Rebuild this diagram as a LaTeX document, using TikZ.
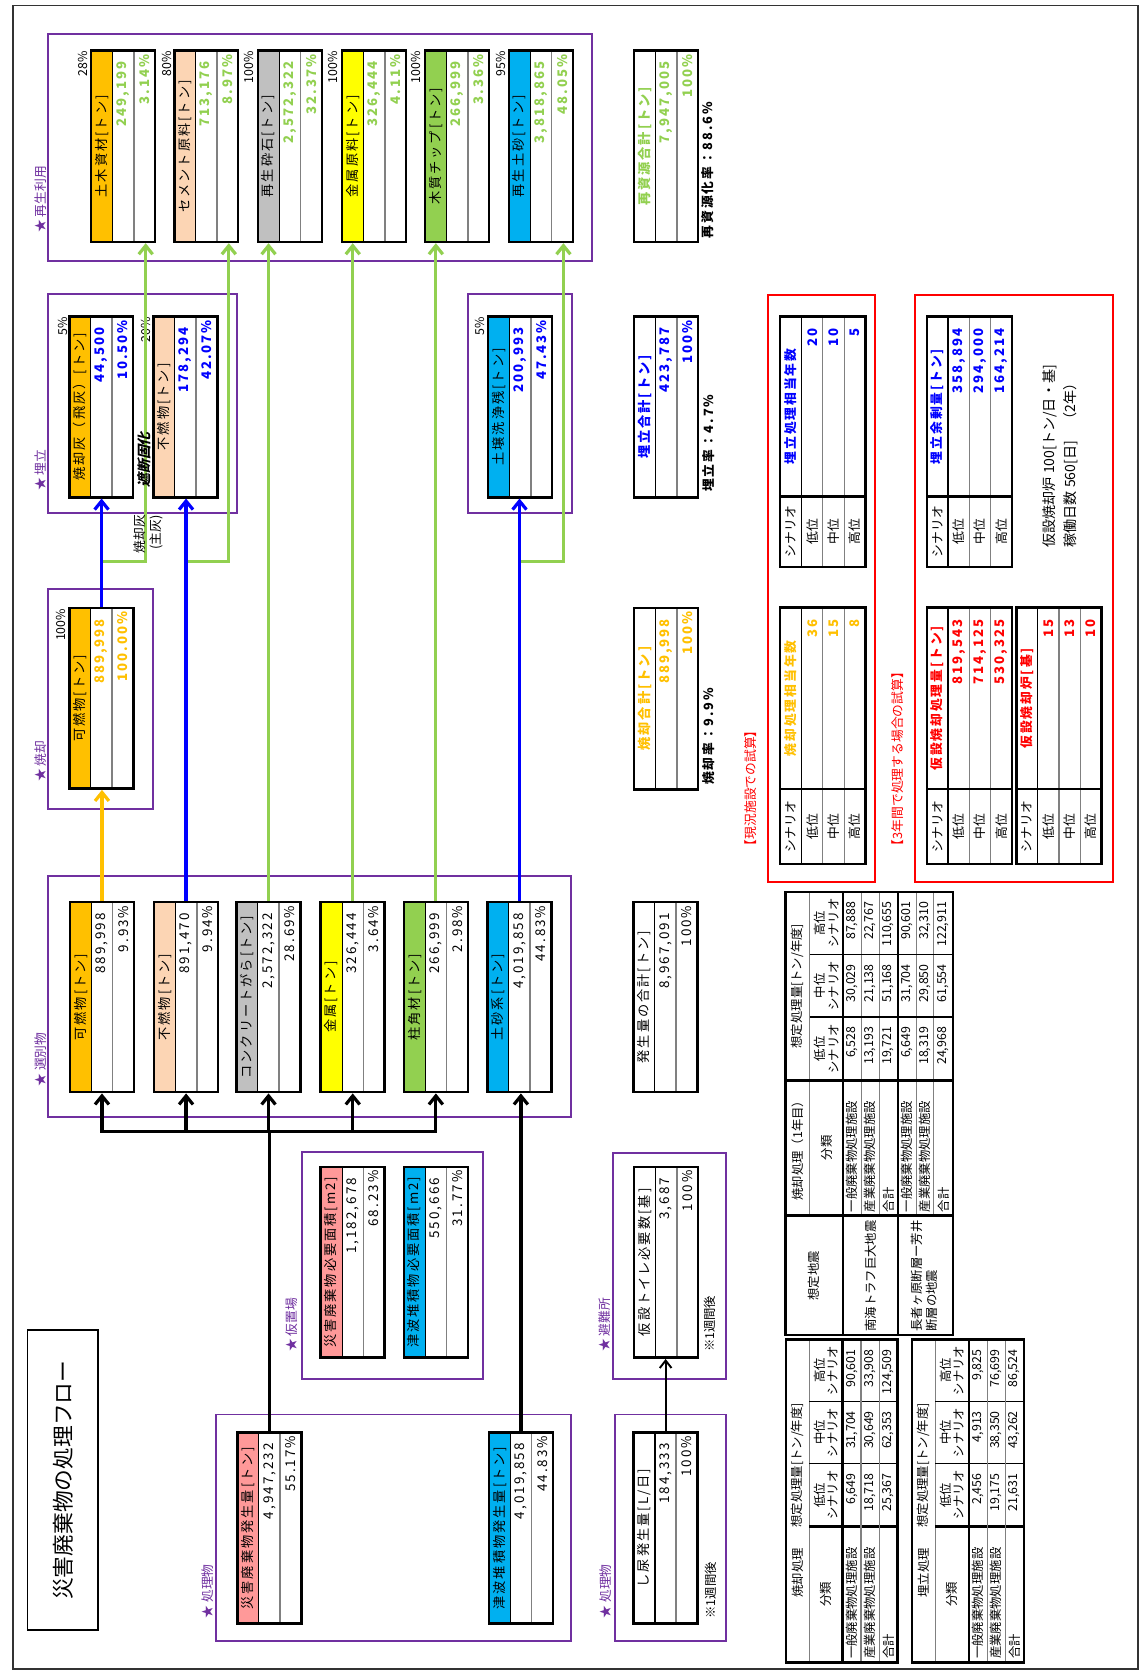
\documentclass[tikz,border=0pt]{standalone}
\usepackage{fontspec}
\setmainfont{Noto Sans CJK JP}
\newfontfamily\jpls{Noto Sans CJK JP}[LetterSpace=15]
\newfontfamily\jpsl{Noto Sans CJK JP}[FakeSlant=0.25]
\usetikzlibrary{fit,arrows.meta,calc}
\definecolor{vio}{HTML}{7030A0}
\definecolor{cor}{HTML}{FFC000}
\definecolor{cpe}{HTML}{FCD5B4}
\definecolor{cgy}{HTML}{C0C0C0}
\definecolor{cye}{HTML}{FFFF00}
\definecolor{cgr}{HTML}{92D050}
\definecolor{ccy}{HTML}{00B0F0}
\definecolor{csa}{HTML}{FF9999}
\definecolor{cbl}{HTML}{0000FF}
\definecolor{cre}{HTML}{FF0000}
\tikzset{
  dframe/.style={draw, line width=1.2pt, inner sep=0pt},
  grpbox/.style={draw=vio, line width=0.9pt},
  redbox/.style={draw=cre, line width=0.9pt},
  dlbl/.style={rotate=90, inner sep=0pt, font=\jpls\fontsize{6.2}{7}\selectfont},
  dval/.style={rotate=90, inner sep=0pt, anchor=east, font=\jpls\fontsize{6.3}{7}\selectfont},
  dvalb/.style={rotate=90, inner sep=0pt, anchor=east, font=\jpls\bfseries\fontsize{6.2}{7}\selectfont},
  pctl/.style={rotate=90, inner sep=0pt, anchor=east, font=\fontsize{5.8}{6.5}\selectfont},
  grp/.style={rotate=90, inner sep=0pt, anchor=west, text=vio, font=\fontsize{6}{7}\selectfont},
  notet/.style={rotate=90, inner sep=0pt, anchor=west, font=\fontsize{5.8}{7}\selectfont},
  notebd/.style={rotate=90, inner sep=0pt, anchor=west, font=\jpls\bfseries\fontsize{6}{7}\selectfont},
  tabt/.style={rotate=90, inner sep=0pt, font=\fontsize{5.8}{6.4}\selectfont},
  tabw/.style={tabt, anchor=west},
  tabe/.style={tabt, anchor=east},
  sth/.style={rotate=90, inner sep=0pt, font=\jpls\bfseries\fontsize{6}{7}\selectfont},
  stv/.style={rotate=90, inner sep=0pt, anchor=east, font=\jpls\bfseries\fontsize{6.2}{7}\selectfont},
  stt/.style={rotate=90, inner sep=0pt, font=\fontsize{6}{7}\selectfont},
  tbold/.style={line width=1.1pt},
  tblk/.style={line width=0.6pt},
  tgray/.style={line width=0.5pt, draw=gray},
  flowarr/.style={line width=1.5pt, -{Straight Barb[length=4pt,width=6.5pt]}},
  thinflow/.style={line width=0.9pt, -{Straight Barb[length=3.5pt,width=5.5pt]}},
}
% data box: name, xleft, ytop, ybottom, fill, label, value, percent, value style
\newcommand{\dbox}[9]{%
  \fill[#5] (#2,#3) rectangle (#2+20,#4);
  \draw[line width=0.5pt] (#2+20,#3) -- (#2+20,#4);
  \draw[line width=0.8pt, draw=gray] (#2+40,#3) -- (#2+40,#4);
  \node[dframe, fit={(#2,#3) (#2+60,#4)}] (#1) {};
  \node[dlbl] (#1-l) at (#2+10,{(#3+#4)/2}) {#6};
  \node[#9] (#1-v) at (#2+30,#3+10) {#7};
  \node[#9] (#1-p) at (#2+50,#3+3) {#8};
}
% scenario table: name, xleft, ytop, ysplit, ybottom, colour, header, {v1}{v2}{v3}
\newcommand{\stable}[8]{%
  \draw[tgray] (#2+40,#3) -- (#2+40,#5) (#2+60,#3) -- (#2+60,#5);
  \draw[tblk] (#2+20,#3) -- (#2+20,#5);
  \draw[tbold] (#2,#4) -- (#2+80,#4);
  \draw[tbold] (#2,#3) rectangle (#2+80,#5);
  \node[stt] (#1-s) at (#2+10,{(#4+#5)/2}) {シナリオ};
  \node[stt] (#1-a) at (#2+30,{(#4+#5)/2}) {低位};
  \node[stt] (#1-b) at (#2+50,{(#4+#5)/2}) {中位};
  \node[stt] (#1-c) at (#2+70,{(#4+#5)/2}) {高位};
  \node[sth, text=#6] (#1-h) at (#2+10,{(#3+#4)/2}) {#7};
  \stvals{#1}{#2}{#3}{#6}#8%
}
\newcommand{\stvals}[7]{%
  \node[stv, text=#4] (#1-1) at (#2+30,#3+11) {#5};
  \node[stv, text=#4] (#1-2) at (#2+50,#3+11) {#6};
  \node[stv, text=#4] (#1-3) at (#2+70,#3+11) {#7};
}
\newcommand{\valrow}[8]{%
  \node[tabe] (#1a) at (#2,#3) {#6};
  \node[tabe] (#1b) at (#2,#4) {#7};
  \node[tabe] (#1c) at (#2,#5) {#8};
}
% lower table: name, xleft, title, row1, row2, row3
\newcommand{\lowtab}[6]{%
  \draw[tgray] (#2+21.9,1257) -- (#2+21.9,1560);
  \draw[tblk] (#2+21.9,1314.8) -- (#2+104.8,1314.8) (#2+21.9,1373.6) -- (#2+104.8,1373.6);
  \draw[tbold] (#2+21.9,1432.4) -- (#2+104.8,1432.4) (#2+53.2,1257) -- (#2+53.2,1560);
  \draw[tgray] (#2+70.4,1257) -- (#2+70.4,1560) (#2+87.6,1257) -- (#2+87.6,1560);
  \draw[tbold] (#2,1257) rectangle (#2+104.8,1560);
  \node[tabt] (#1-t) at (#2+11,1476) {#3};
  \node[tabt] (#1-h) at (#2+11,1375) {想定処理量[トン/年度]};
  \node[tabt] (#1-b) at (#2+37.5,1496) {分類};
  \node[tabt,align=center] (#1-s1) at (#2+37.5,1403) {低位\\シナリオ};
  \node[tabt,align=center] (#1-s2) at (#2+37.5,1344.2) {中位\\シナリオ};
  \node[tabt,align=center] (#1-s3) at (#2+37.5,1285.9) {高位\\シナリオ};
  \node[tabw] (#1-r1) at (#2+61.8,1557) {一般廃棄物処理施設};
  \node[tabw] (#1-r2) at (#2+79,1557) {産業廃棄物処理施設};
  \node[tabw] (#1-r3) at (#2+96.2,1557) {合計};
  \valrow{#1-1}{#2+61.8}{1382.6}{1323.8}{1266}#4%
  \valrow{#1-2}{#2+79}{1382.6}{1323.8}{1266}#5%
  \valrow{#1-3}{#2+96.2}{1382.6}{1323.8}{1266}#6%
}
\begin{document}
\begin{tikzpicture}[x=0.5pt,y=-0.5pt]
\useasboundingbox (0,0) rectangle (1071,1568);
\fill[white] (0,0) rectangle (1071,1568);
\draw[line width=0.7pt, draw=black!80] (12,5) rectangle (1068,1566);

% title
\node[draw, line width=0.8pt, inner sep=0pt, fit={(25.8,1247.8) (92,1529.4)}] (titlebox) {};
\node[rotate=90, inner sep=0pt, font=\fontsize{10.2}{12}\selectfont] (title) at (59,1389) {災害廃棄物の処理フロー};

% group frames
\draw[grpbox] (45,32) rectangle (555.5,244.7);
\draw[grpbox] (45,276) rectangle (222,481);
\draw[grpbox] (439,276) rectangle (536.4,481);
\draw[grpbox] (45,552.3) rectangle (143.8,758.8);
\draw[grpbox] (45.3,822) rectangle (535.8,1048);
\draw[grpbox] (283.3,1081) rectangle (453.6,1293.8);
\draw[grpbox] (574.8,1081.5) rectangle (681.2,1293.6);
\draw[grpbox] (202.3,1327.3) rectangle (536.2,1540);
\draw[grpbox] (576.8,1327.3) rectangle (681,1540);
\draw[redbox] (720.6,276.5) rectangle (820.7,827.6);
\draw[redbox] (858.3,276.5) rectangle (1044.1,827.6);

% group labels
\node[grp] (g1) at (38,219) {★ 再生利用};
\node[grp] (g2) at (38,461) {★ 埋立};
\node[grp] (g3) at (38,734) {★ 焼却};
\node[grp] (g4) at (38,1020) {★ 選別物};
\node[grp] (g5) at (273.6,1269) {★ 仮置場};
\node[grp] (g6) at (195,1519) {★ 処理物};
\node[grp] (g7) at (567,1269) {★ 避難所};
\node[grp] (g8) at (568.7,1519) {★ 処理物};

% 再生利用
\dbox{R1}{85.5}{47.6}{227}{cor}{土木資材[トン]}{249,199}{3.14\%}{dvalb,text=cgr}
\dbox{R2}{163.5}{47.6}{227}{cpe}{セメント原料[トン]}{713,176}{8.97\%}{dvalb,text=cgr}
\dbox{R3}{242}{47.6}{227}{cgy}{再生砕石[トン]}{2,572,322}{32.37\%}{dvalb,text=cgr}
\dbox{R4}{321}{47.6}{227}{cye}{金属原料[トン]}{326,444}{4.11\%}{dvalb,text=cgr}
\dbox{R5}{399}{47.6}{227}{cgr}{木質チップ[トン]}{266,999}{3.36\%}{dvalb,text=cgr}
\dbox{R6}{477.5}{47.6}{227}{ccy}{再生土砂[トン]}{3,818,865}{48.05\%}{dvalb,text=cgr}
\dbox{RT}{595}{47.6}{227}{white}{\bfseries\color{cgr}再資源合計[トン]}{7,947,005}{100\%}{dvalb,text=cgr}
\node[pctl] (R1-t) at (77.8,48) {28\%};
\node[pctl] (R2-t) at (156.6,48) {80\%};
\node[pctl] (R3-t) at (233.7,48) {100\%};
\node[pctl] (R4-t) at (312.5,48) {100\%};
\node[pctl] (R5-t) at (390.5,48) {100\%};
\node[pctl] (R6-t) at (470,48) {95\%};
\node[notebd] (n1) at (664,224) {再資源化率：88.6\%};

% 埋立
\dbox{U1}{65}{297}{466.6}{cor}{焼却灰（飛灰）[トン]}{44,500}{10.50\%}{dvalb,text=cbl}
\dbox{U2}{144}{297}{466.6}{cpe}{不燃物[トン]}{178,294}{42.07\%}{dvalb,text=cbl}
\dbox{U3}{458}{297}{466.6}{ccy}{土壌洗浄残[トン]}{200,993}{47.43\%}{dvalb,text=cbl}
\dbox{UT}{595}{297}{467}{white}{\bfseries\color{cbl}埋立合計[トン]}{423,787}{100\%}{dvalb,text=cbl}
\node[pctl] (U1-t) at (58.7,297.5) {5\%};
\node[pctl] (U2-t) at (136.6,297.5) {20\%};
\node[pctl] (U3-t) at (450.7,297.5) {5\%};
\node[notebd] (n2) at (665,462) {埋立率：4.7\%};

% 焼却
\dbox{S1}{65.3}{570.4}{740}{cor}{可燃物[トン]}{889,998}{100.00\%}{dvalb,text=cor}
\dbox{ST}{595}{570.4}{740.6}{white}{\bfseries\color{cor}焼却合計[トン]}{889,998}{100\%}{dvalb,text=cor}
\node[pctl] (S1-t) at (57.6,571) {100\%};
\node[notebd] (n3) at (665,737) {焼却率：9.9\%};

% 選別物
\dbox{B1}{65.7}{846.4}{1024.8}{cor}{可燃物[トン]}{889,998}{9.93\%}{dval}
\dbox{B2}{144.6}{846.4}{1024.8}{cpe}{不燃物[トン]}{891,470}{9.94\%}{dval}
\dbox{B3}{222}{846.4}{1024.8}{cgy}{コンクリートがら[トン]}{2,572,322}{28.69\%}{dval}
\dbox{B4}{301}{846.4}{1024.8}{cye}{金属[トン]}{326,444}{3.64\%}{dval}
\dbox{B5}{379}{846.4}{1024.8}{cgr}{柱角材[トン]}{266,999}{2.98\%}{dval}
\dbox{B6}{457.5}{846.4}{1024.8}{ccy}{土砂系[トン]}{4,019,858}{44.83\%}{dval}
\dbox{BT}{594.5}{846.4}{1024.8}{white}{発生量の合計[トン]}{8,967,091}{100\%}{dval}

% 仮置場 / 避難所 / 処理物
\dbox{K1}{301}{1095}{1274}{csa}{災害廃棄物必要面積[m2]}{1,182,678}{68.23\%}{dval}
\dbox{K2}{379}{1095}{1274}{ccy}{津波堆積物必要面積[m2]}{550,666}{31.77\%}{dval}
\dbox{T1}{595}{1095}{1274}{white}{仮設トイレ必要数[基]}{3,687}{100\%}{dval}
\dbox{P1}{222.8}{1344}{1523.6}{csa}{災害廃棄物発生量[トン]}{4,947,232}{55.17\%}{dval}
\dbox{P2}{458.8}{1344}{1523.6}{ccy}{津波堆積物発生量[トン]}{4,019,858}{44.83\%}{dval}
\dbox{P3}{594.6}{1344}{1523.6}{white}{し尿発生量[L/日]}{184,333}{100\%}{dval}
\node[notet] (n4) at (666.5,1269) {※1週間後};
\node[notet] (n5) at (667,1519) {※1週間後};

% connectors
\coordinate (jn) at (0,527);
\coordinate (bus) at (0,1062);
\draw[flowarr, draw=cgr] (S1.north) -- (S1.north |- jn) -| ($(R1.south east)+(-10,0)$);
\draw[flowarr, draw=cgr] (B2.north) -- (B2.north |- jn) -| ($(R2.south east)+(-10,0)$);
\draw[flowarr, draw=cgr] (B6.north) -- (B6.north |- jn) -| ($(R6.south east)+(-10,0)$);
\draw[flowarr, draw=cgr] (B3.north) -- (B3.north |- R3.south);
\draw[flowarr, draw=cgr] (B4.north) -- (B4.north |- R4.south);
\draw[flowarr, draw=cgr] (B5.north) -- (B5.north |- R5.south);
\draw[flowarr, draw=cbl] (S1.north) -- (S1.north |- U1.south);
\draw[flowarr, draw=cbl] (B2.north) -- (B2.north |- U2.south);
\draw[flowarr, draw=cbl] (B6.north) -- (B6.north |- U3.south);
\draw[flowarr, draw=cor] (B1.north) -- (B1.north |- S1.south);
\draw[line width=1.5pt] (P1.north) -- (P1.north |- bus);
\draw[line width=1.5pt, line cap=rect] (B1.south |- bus) -- (B5.south |- bus);
\foreach \b in {B1,B2,B3,B4,B5}
  \draw[flowarr] (\b.south |- bus) -- (\b.south);
\draw[flowarr] (P2.north) -- (P2.north |- B6.south);
\draw[thinflow] (P3.north) -- (P3.north |- T1.south);

\node[rotate=90, inner sep=0pt, anchor=east, align=right, font=\fontsize{6}{7.5}\selectfont] (ash) at (139,483) {焼却灰\\(主灰)};
\node[rotate=90, inner sep=0pt, anchor=west, font=\jpsl\bfseries\fontsize{6.5}{7}\selectfont] (seal) at (135.5,458) {遮断固化};

% red boxes
\node[notet, text=cre, font=\fontsize{6}{7}\selectfont] (n6) at (704.6,800) {【現況施設での試算】};
\node[notet, text=cre, font=\fontsize{6}{7}\selectfont] (n7) at (842,800) {【3年間で処理する場合の試算】};
\stable{ta}{732.2}{570}{740.6}{810.7}{cor}{焼却処理相当年数}{{36}{15}{8}}
\stable{tb}{732.2}{297}{465.8}{532}{cbl}{埋立処理相当年数}{{20}{10}{5}}
\stable{tc}{869.6}{570}{740.6}{810.7}{cre}{仮設焼却処理量[トン]}{{819,543}{714,125}{530,325}}
\stable{td}{869.6}{297}{465.8}{532}{cbl}{埋立余剰量[トン]}{{358,894}{294,000}{164,214}}
\stable{te}{953.7}{570}{740.6}{810.7}{cre}{仮設焼却炉[基]}{{15}{13}{10}}
\node[notet, align=left, font=\fontsize{6.6}{10.2}\selectfont] (n8) at (995,514) {仮設焼却炉 100[トン/日・基]\\稼働日数 560[日]　（2年）};

% upper bottom table
\draw[tgray] (760,837) -- (760,1140.5);
\draw[tgray] (808,837) -- (808,1140.5) (825,837) -- (825,1140.5) (859.7,837) -- (859.7,1140.5) (876.3,837) -- (876.3,1140.5);
\draw[tblk] (760,895.5) -- (894,895.5) (760,954.3) -- (894,954.3);
\draw[tbold] (737,1013.8) -- (894,1013.8) (737,1140.5) -- (894,1140.5) (791,837) -- (791,1253) (842.5,837) -- (842.5,1253);
\draw[tbold] (737,837) rectangle (894,1253);
\node[tabt] (u-h1) at (748.5,925.4) {想定処理量[トン/年度]};
\node[tabt] (u-h2) at (748.5,1077) {焼却処理（1年目）};
\node[tabt] (u-h3) at (775.5,1077) {分類};
\node[tabt] (u-h4) at (764,1197) {想定地震};
\node[tabt, align=center] (u-s1) at (775.5,984) {低位\\シナリオ};
\node[tabt, align=center] (u-s2) at (775.5,925) {中位\\シナリオ};
\node[tabt, align=center] (u-s3) at (775.5,866.2) {高位\\シナリオ};
\node[tabw] (u-r1) at (799.5,1138) {一般廃棄物処理施設};
\node[tabw] (u-r2) at (816.5,1138) {産業廃棄物処理施設};
\node[tabw] (u-r3) at (833.7,1138) {合計};
\node[tabw] (u-r4) at (851.1,1138) {一般廃棄物処理施設};
\node[tabw] (u-r5) at (868,1138) {産業廃棄物処理施設};
\node[tabw] (u-r6) at (885.2,1138) {合計};
\node[tabw] (u-q1) at (817,1250) {南海トラフ巨大地震};
\node[tabw, align=left, font=\fontsize{5.8}{7}\selectfont] (u-q2) at (867.5,1250) {長者ヶ原断層ー芳井\\断層の地震};
\valrow{ut1}{799.5}{963.3}{904.5}{846}{6,528}{30,029}{87,888}
\valrow{ut2}{816.5}{963.3}{904.5}{846}{13,193}{21,138}{22,767}
\valrow{ut3}{833.7}{963.3}{904.5}{846}{19,721}{51,168}{110,655}
\valrow{ut4}{851.1}{963.3}{904.5}{846}{6,649}{31,704}{90,601}
\valrow{ut5}{868}{963.3}{904.5}{846}{18,319}{29,850}{32,310}
\valrow{ut6}{885.2}{963.3}{904.5}{846}{24,968}{61,554}{122,911}

% lower tables
\lowtab{lt}{737.5}{焼却処理}{{6,649}{31,704}{90,601}}{{18,718}{30,649}{33,908}}{{25,367}{62,353}{124,509}}
\lowtab{rt}{855.8}{埋立処理}{{2,456}{4,913}{9,825}}{{19,175}{38,350}{76,699}}{{21,631}{43,262}{86,524}}
\end{tikzpicture}
\end{document}
